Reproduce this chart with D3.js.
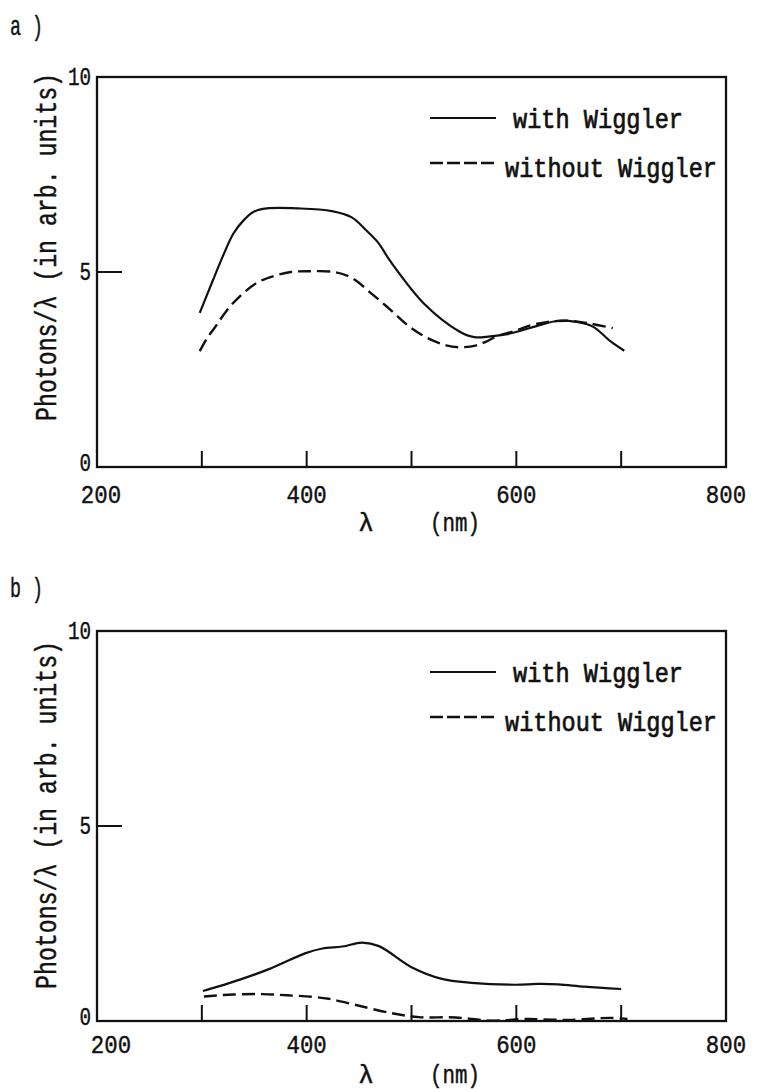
<!DOCTYPE html>
<html>
<head>
<meta charset="utf-8">
<script src="https://cdn.jsdelivr.net/npm/d3@7"></script>
<style>
  body { margin: 0; background: #fff; }
  svg text { font-family: "Liberation Mono", "DejaVu Sans Mono", monospace; fill: #111; stroke: #111; stroke-width: 0.45px; }
</style>
</head>
<body>
<svg id="chart" width="759" height="1092"></svg>
<script>
// ---- data ----
const xTicks = [300, 400, 500, 600, 700];
const xTickLabels = [200, 400, 600, 800];
const yTickLabels = [0, 5, 10];
const seriesNames = ["with Wiggler", "without Wiggler"];

// panel a
const aWithLambda = [298, 310, 320, 330, 340, 350, 362, 392, 424, 443, 456, 468, 480, 513, 546, 560, 575, 590, 605, 620, 640, 657, 673, 690, 703];
const aWithValue  = [3.95, 4.75, 5.4, 5.98, 6.33, 6.55, 6.63, 6.63, 6.56, 6.40, 6.09, 5.76, 5.27, 4.16, 3.47, 3.33, 3.35, 3.40, 3.5, 3.62, 3.75, 3.72, 3.60, 3.22, 2.98];
const aWithoutLambda = [298, 305, 313, 324, 336, 353, 369, 385, 402, 426, 443, 463, 480, 496, 513, 533, 547, 562, 570, 583, 600, 612, 630, 650, 670, 692];
const aWithoutValue  = [2.97, 3.3, 3.6, 4.02, 4.37, 4.73, 4.9, 5.0, 5.02, 5.0, 4.85, 4.42, 4.03, 3.64, 3.34, 3.12, 3.07, 3.12, 3.2, 3.37, 3.5, 3.62, 3.72, 3.75, 3.68, 3.56];

// panel b
const bWithLambda = [301, 326, 364, 399, 415, 434, 453, 469, 500, 529, 557, 599, 620, 640, 665, 700];
const bWithValue  = [0.77, 0.97, 1.33, 1.74, 1.86, 1.91, 2.01, 1.92, 1.38, 1.08, 0.98, 0.93, 0.95, 0.94, 0.88, 0.82];
const bWithoutLambda = [302, 330, 358, 381, 405, 421, 447, 481, 507, 542, 576, 609, 650, 690, 706];
const bWithoutValue  = [0.63, 0.68, 0.69, 0.66, 0.62, 0.57, 0.41, 0.2, 0.1, 0.09, 0.01, 0.05, 0.03, 0.08, 0.05];

var svg = d3.select("#chart");

// squeeze text horizontally, the scan uses a narrow typewriter face
function condense(sel, f) {
    sel.each(function () {
        var L = this.getComputedTextLength();
        d3.select(this).attr("textLength", L * f).attr("lengthAdjust", "spacingAndGlyphs");
    });
}

function panel(opt) {
    var g = svg.append("g");

    var x = d3.scaleLinear().domain([200, 800]).range([97, 726]);
    var y = d3.scaleLinear().domain([0, 10]).range([opt.bottom, opt.top]);

    // frame
    g.append("rect")
        .attr("x", x(200)).attr("y", y(10))
        .attr("width", x(800) - x(200)).attr("height", y(0) - y(10))
        .style("fill", "none").style("stroke", "#111").style("stroke-width", 2.3);

    // x ticks point up into the box
    g.selectAll(".xt").data(xTicks).enter().append("line")
        .attr("x1", d => x(d)).attr("x2", d => x(d))
        .attr("y1", y(0)).attr("y2", y(0) - 16)
        .style("stroke", "#111").style("stroke-width", 2);

    // y tick at 5
    g.append("line")
        .attr("x1", x(200)).attr("x2", x(200) + 25)
        .attr("y1", y(5)).attr("y2", y(5))
        .style("stroke", "#111").style("stroke-width", 2);

    g.selectAll(".xl").data(xTickLabels).enter().append("text")
        .attr("x", d => x(d) + (d === 200 ? opt.firstDx : 0))
        .attr("y", y(0) + opt.xlDy)
        .attr("text-anchor", "middle")
        .style("font-size", "26px")
        .text(d => d)
        .call(condense, 0.86);

    g.selectAll(".yl").data(yTickLabels).enter().append("text")
        .attr("x", 91)
        .attr("y", d => y(d) + (d === 0 ? 4 : 8))
        .attr("text-anchor", "end")
        .style("font-size", "26px")
        .text(d => d)
        .call(condense, 0.74);

    // axis titles
    g.append("text")
        .attr("x", 366).attr("y", y(0) + opt.titleDy)
        .attr("text-anchor", "middle")
        .style("font-size", "26px")
        .text("λ");
    g.append("text")
        .attr("x", 455).attr("y", y(0) + opt.titleDy)
        .attr("text-anchor", "middle")
        .style("font-size", "26px")
        .text("(nm)")
        .call(condense, 0.8);

    // narrow face: scale along the text direction instead of textLength
    g.append("text")
        .attr("transform", "translate(56," + opt.labelMid + ") rotate(-90) scale(0.8,1)")
        .attr("text-anchor", "middle")
        .style("font-size", "29px")
        .text("Photons/λ (in arb. units)");

    g.append("text")
        .attr("x", 10).attr("y", y(10) - opt.tagDy)
        .style("font-size", "28px")
        .text(opt.tag)
        .attr("textLength", 33).attr("lengthAdjust", "spacingAndGlyphs");

    // curves
    var line = d3.line()
        .x(d => x(d[0]))
        .y(d => y(d[1]))
        .curve(d3.curveCatmullRom.alpha(0.5));

    g.append("path")
        .datum(d3.zip(opt.withL, opt.withV))
        .attr("d", line)
        .style("fill", "none").style("stroke", "#111").style("stroke-width", 2.2);

    g.append("path")
        .datum(d3.zip(opt.withoutL, opt.withoutV))
        .attr("d", line)
        .style("fill", "none").style("stroke", "#111").style("stroke-width", 2.4)
        .style("stroke-dasharray", "13,6");

    // legend
    var ly = [y(10) + 41, y(10) + 86];
    g.append("line")
        .attr("x1", 430).attr("x2", 496).attr("y1", ly[0]).attr("y2", ly[0])
        .style("stroke", "#111").style("stroke-width", 2.2);
    g.append("line")
        .attr("x1", 430).attr("x2", 496).attr("y1", ly[1]).attr("y2", ly[1])
        .style("stroke", "#111").style("stroke-width", 2.4)
        .style("stroke-dasharray", "13,4");

    g.append("text")
        .attr("x", 513).attr("y", ly[0] + 10)
        .style("font-size", "27px").style("stroke-width", "0.7px")
        .text(seriesNames[0])
        .attr("textLength", 170).attr("lengthAdjust", "spacingAndGlyphs");
    g.append("text")
        .attr("x", 505).attr("y", ly[1] + 14)
        .style("font-size", "27px").style("stroke-width", "0.7px")
        .text(seriesNames[1])
        .attr("textLength", 212).attr("lengthAdjust", "spacingAndGlyphs");
}

panel({
    tag: "a )", tagDy: 42, top: 77, bottom: 467, labelMid: 247,
    firstDx: 4, xlDy: 36, titleDy: 64,
    withL: aWithLambda, withV: aWithValue,
    withoutL: aWithoutLambda, withoutV: aWithoutValue
});

panel({
    tag: "b )", tagDy: 34, top: 631, bottom: 1021, labelMid: 815,
    firstDx: 14, xlDy: 32, titleDy: 62,
    withL: bWithLambda, withV: bWithValue,
    withoutL: bWithoutLambda, withoutV: bWithoutValue
});
</script>
</body>
</html>
